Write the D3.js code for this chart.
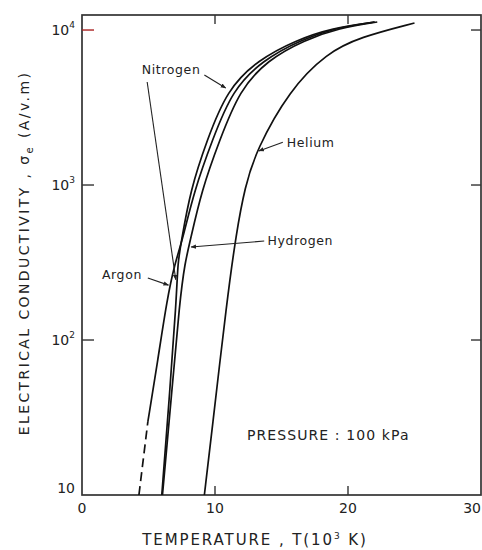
<!DOCTYPE html>
<html>
<head>
<meta charset="utf-8">
<script src="https://cdn.jsdelivr.net/npm/d3@7"></script>
<style>
  body { margin: 0; background: #fff; }
  text { font-family: "DejaVu Sans", sans-serif; fill: #222; }
</style>
</head>
<body>
<div class="canvas"></div>
<script>
// conductivity (A/v.m) vs temperature (10^3 K)
const nitrogen = [[6.0, 10], [6.55, 41], [7.1, 181], [7.2, 318], [7.45, 423], [8.15, 929],
  [9.4, 1950], [10.9, 4100], [13.2, 6400], [16.1, 8610], [18.8, 10300], [22.0, 11270]];
const argon = [[4.28, 10], [4.95, 29.6], [5.7, 74], [6.38, 181], [7.0, 318], [7.5, 423],
  [8.45, 929], [9.8, 1950], [11.3, 4100], [13.6, 6400], [16.4, 8610], [19.05, 10300], [22.0, 11270]];
const hydrogen = [[6.05, 10], [6.7, 41], [7.35, 181], [7.75, 318], [8.1, 423], [9.0, 929],
  [10.35, 1950], [11.85, 4100], [13.95, 6400], [16.7, 8610], [19.35, 10300], [22.2, 11270]];
const helium = [[9.2, 10], [9.75, 25], [10.9, 181], [11.6, 490], [12.25, 970], [13.1, 1680],
  [15.6, 4100], [18.4, 7100], [20.9, 9000], [25.0, 11100]];
const argonDashEnd = 4.95; // argon below this is drawn dashed

const xTicks = [0, 10, 20, 30];
const yTicks = [10, 100, 1000, 10000];
const yTickLabels = ["10", "10|2", "10|3", "10|4"];

// labels with leader lines: [text, labelT, labelS, [fromT, fromS, toT, toS], ...]
const labels = [
  ["Nitrogen", 4.5, 5200, [[9.2, 5130, 10.8, 4230], [4.9, 4620, 7.05, 245]]],
  ["Argon", 1.5, 248, [[4.95, 251, 6.5, 226]]],
  ["Hydrogen", 13.95, 410, [[13.7, 435, 8.2, 398]]],
  ["Helium", 15.4, 1760, [[15.1, 1890, 13.3, 1660]]]
];

const width = 482, height = 550;
const svg = d3.select(".canvas").append("svg")
  .attr("width", width)
  .attr("height", height);

const x = d3.scaleLinear().domain([0, 30]).range([82, 481]);
const y = d3.scaleLog().domain([10, 12500]).range([495, 15]);

// frame
svg.append("rect")
  .attr("x", x(0)).attr("y", y(12500))
  .attr("width", x(30) - x(0)).attr("height", y(10) - y(12500))
  .attr("fill", "none").attr("stroke", "#333").attr("stroke-width", 1.7);

// ticks pointing inward
const tk = svg.append("g").attr("stroke", "#333").attr("stroke-width", 1.4);
yTicks.slice(1).forEach(v => {
  tk.append("line").attr("x1", x(0)).attr("x2", x(0) + 12).attr("y1", y(v)).attr("y2", y(v))
    .attr("stroke", v === 10000 ? "#a22" : "#333");
  tk.append("line").attr("x1", x(30)).attr("x2", x(30) - 10).attr("y1", y(v)).attr("y2", y(v));
});
[10, 20].forEach(t => {
  tk.append("line").attr("x1", x(t)).attr("x2", x(t)).attr("y1", y(10)).attr("y2", y(10) - 9);
  tk.append("line").attr("x1", x(t)).attr("x2", x(t)).attr("y1", y(12500)).attr("y2", y(12500) + 9);
});

// tick labels
xTicks.forEach(t => {
  svg.append("text")
    .attr("x", t === 30 ? 481 : x(t)).attr("y", 513)
    .attr("text-anchor", t === 30 ? "end" : "middle")
    .attr("font-size", 14)
    .text(t);
});
yTicks.forEach((v, i) => {
  const parts = yTickLabels[i].split("|");
  const tx = svg.append("text")
    .attr("x", 75).attr("y", v === 10 ? y(v) - 2 : y(v) + 5)
    .attr("text-anchor", "end")
    .attr("font-size", 14);
  tx.append("tspan").text(parts[0]);
  if (parts[1]) tx.append("tspan").attr("dy", -7).attr("font-size", 9).text(parts[1]);
});

// axis titles
const xt = svg.append("text")
  .attr("x", 255).attr("y", 545)
  .attr("text-anchor", "middle")
  .attr("font-size", 15)
  .attr("letter-spacing", 1.9);
xt.append("tspan").text("TEMPERATURE , T(10");
xt.append("tspan").attr("dy", -6).attr("font-size", 9).text("3");
xt.append("tspan").attr("dy", 6).text(" K)");

const yt = svg.append("text")
  .attr("transform", "translate(29,253) rotate(-90)")
  .attr("text-anchor", "middle")
  .attr("font-size", 14)
  .attr("letter-spacing", 2.4);
yt.append("tspan").text("ELECTRICAL   CONDUCTIVITY , σ");
yt.append("tspan").attr("dy", 4).attr("font-size", 10).text("e");
yt.append("tspan").attr("dy", -4).text(" (A/v.m)");

// curves
const line = d3.line()
  .x(d => x(d[0]))
  .y(d => y(d[1]))
  .curve(d3.curveBasis);

const curves = svg.append("g")
  .attr("fill", "none")
  .attr("stroke", "#111")
  .attr("stroke-width", 1.7);

[nitrogen, hydrogen, helium].forEach(s => {
  curves.append("path").attr("d", line(s));
});
curves.append("path")
  .attr("d", line(argon.filter(d => d[0] >= argonDashEnd)));
curves.append("path")
  .attr("d", line(argon.filter(d => d[0] <= argonDashEnd)))
  .attr("stroke-dasharray", "9,5");

// gas labels and leader lines
svg.append("defs").append("marker")
  .attr("id", "arr")
  .attr("viewBox", "0 0 10 10")
  .attr("refX", 9).attr("refY", 5)
  .attr("markerWidth", 5).attr("markerHeight", 5)
  .attr("orient", "auto")
  .append("path").attr("d", "M0,1L10,5L0,9Z").attr("fill", "#222");

labels.forEach(l => {
  svg.append("text")
    .attr("x", x(l[1])).attr("y", y(l[2]))
    .attr("font-size", 12.5)
    .attr("letter-spacing", 0.6)
    .text(l[0]);
  l[3].forEach(p => {
    svg.append("line")
      .attr("x1", x(p[0])).attr("y1", y(p[1]))
      .attr("x2", x(p[2])).attr("y2", y(p[3]))
      .attr("stroke", "#222").attr("stroke-width", 1.1)
      .attr("marker-end", "url(#arr)");
  });
});

svg.append("text")
  .attr("x", x(12.4)).attr("y", y(22.6))
  .attr("font-size", 14)
  .attr("letter-spacing", 1.1)
  .text("PRESSURE : 100 kPa");
</script>
</body>
</html>
